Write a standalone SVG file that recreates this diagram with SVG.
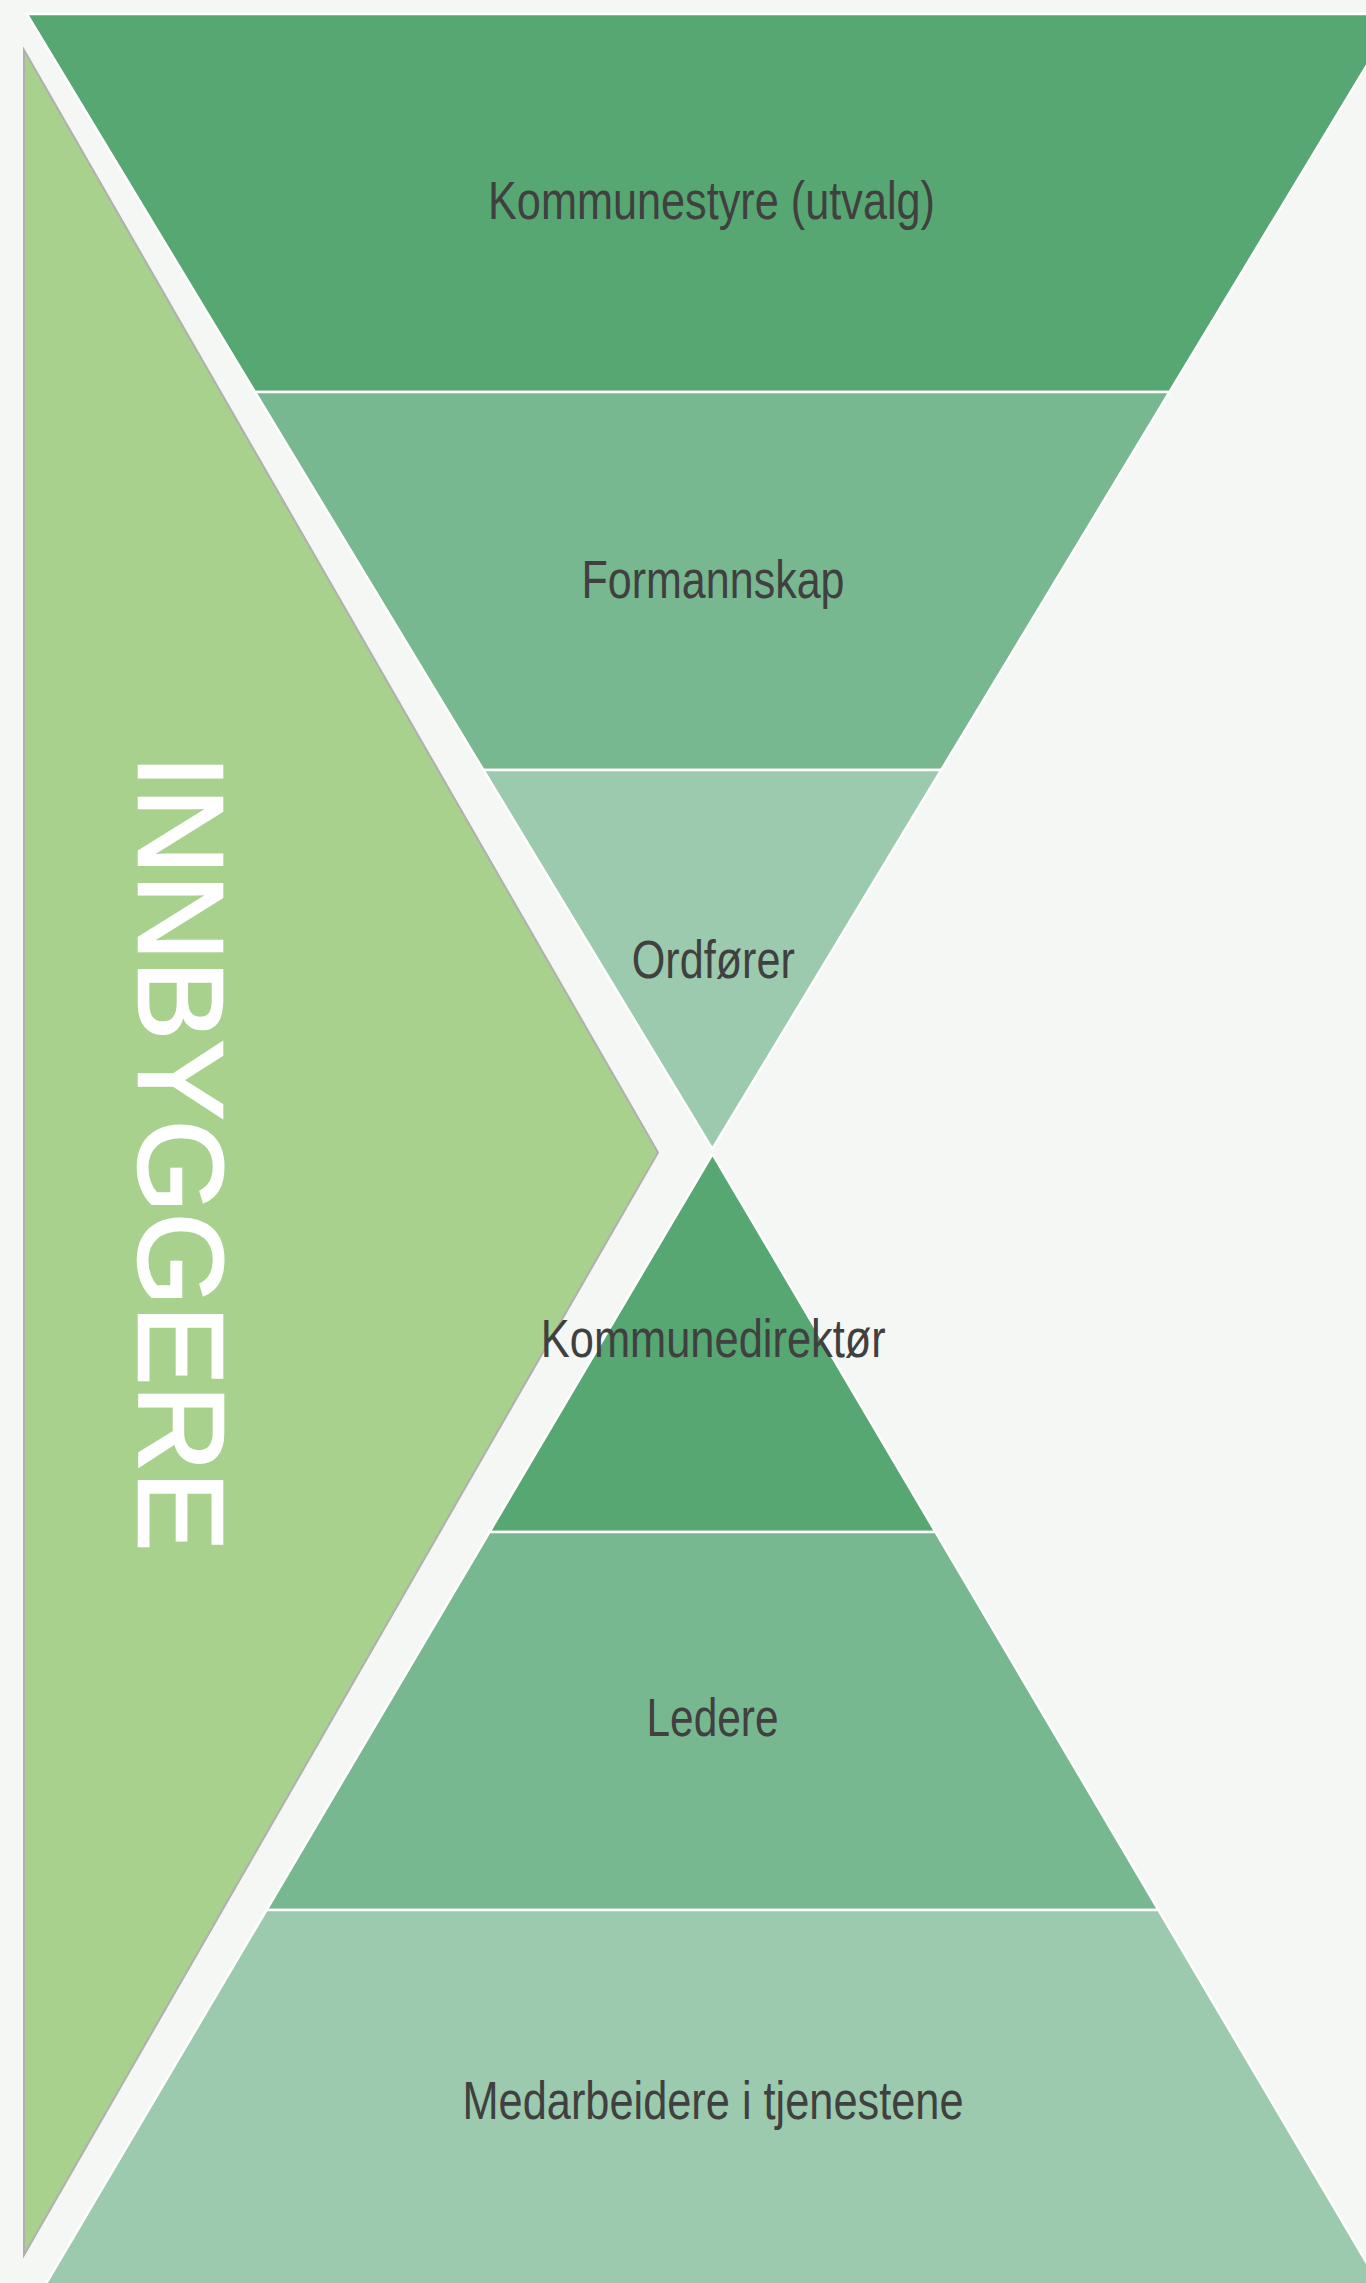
<svg xmlns="http://www.w3.org/2000/svg" width="1366" height="2283" viewBox="0 0 1366 2283">
<style>
.band{stroke:#ffffff;stroke-width:2.5;stroke-linejoin:miter}
.c1{fill:#57a773}
.c2{fill:#78b891}
.c3{fill:#9ccaae}
.lbl{font-family:"Liberation Sans",Arial,sans-serif;font-size:53px;fill:#404040;text-anchor:middle}
</style>
<rect width="1366" height="2283" fill="#f5f7f4"/>
<g id="innbyggere">
<polygon points="24,50 658,1152.5 24,2255" fill="#a8d18d" stroke="#b0b0b0" stroke-width="2"/>
<text transform="translate(139,1153) rotate(90)" font-family="'Liberation Sans',Arial,sans-serif" font-size="120" fill="#ffffff" stroke="#ffffff" stroke-width="2.5" text-anchor="middle" textLength="796" lengthAdjust="spacingAndGlyphs">INNBYGGERE</text>
</g>
<g id="kommunestyre">
<polygon class="band c1" points="26.8,14 1397.8,14 1169.5,392 255,392"/>
<text class="lbl" x="711.5" y="219" textLength="447" lengthAdjust="spacingAndGlyphs">Kommunestyre (utvalg)</text>
</g>
<g id="formannskap">
<polygon class="band c2" points="255,392 1169.5,392 941.2,770 483.4,770"/>
<text class="lbl" x="713" y="598" textLength="263" lengthAdjust="spacingAndGlyphs">Formannskap</text>
</g>
<g id="ordforer">
<polygon class="band c3" points="483.4,770 941.2,770 712.3,1149"/>
<text class="lbl" x="713.3" y="978" textLength="163" lengthAdjust="spacingAndGlyphs">Ordfører</text>
</g>
<g id="kommunedirektor">
<polygon class="band c1" points="712.5,1154 935.5,1532 489.5,1532"/>
<text class="lbl" x="713.3" y="1357" textLength="345" lengthAdjust="spacingAndGlyphs">Kommunedirektør</text>
</g>
<g id="ledere">
<polygon class="band c2" points="489.5,1532 935.5,1532 1158.5,1910 266.5,1910"/>
<text class="lbl" x="712.5" y="1736" textLength="132" lengthAdjust="spacingAndGlyphs">Ledere</text>
</g>
<g id="medarbeidere">
<polygon class="band c3" points="266.5,1910 1158.5,1910 1381.5,2288 43.5,2288"/>
<text class="lbl" x="713" y="2119" textLength="501" lengthAdjust="spacingAndGlyphs">Medarbeidere i tjenestene</text>
</g>
<g id="connectors"/>
</svg>
